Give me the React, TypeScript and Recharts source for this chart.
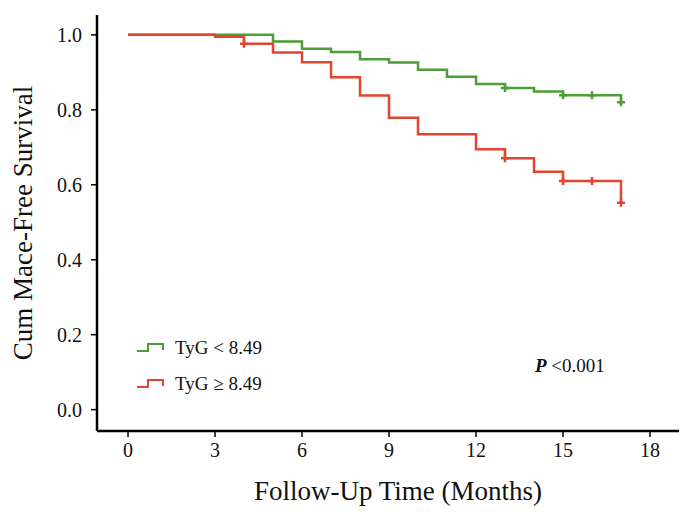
import React from 'react';
import { ComposedChart, Line, XAxis, YAxis, Legend } from 'recharts';

// Kaplan-Meier steps
const greenTime = [0, 5, 6, 7, 8, 9, 10, 11, 12, 13, 14, 15, 16, 17];
const greenSurv = [1, 0.982, 0.963, 0.954, 0.935, 0.926, 0.907, 0.888, 0.869, 0.858, 0.849, 0.839, 0.839, 0.82];
const greenCensored = [13, 15, 16, 17];

const redTime = [0, 3, 4, 5, 6, 7, 8, 9, 10, 12, 13, 14, 15, 16, 17];
const redSurv = [1, 0.995, 0.976, 0.953, 0.927, 0.887, 0.838, 0.779, 0.735, 0.695, 0.671, 0.635, 0.61, 0.61, 0.552];
const redCensored = [4, 13, 15, 16, 17];

const xTicks = [0, 3, 6, 9, 12, 15, 18];
const yTicks = [0, 0.2, 0.4, 0.6, 0.8, 1.0];

const GREEN = '#4c9f36';
const RED = '#e2452f';
const FONT = '"Liberation Serif", "Times New Roman", serif';

const build = (time: number[], surv: number[], cens: number[]) =>
  time.map((t, i) => ({ t, s: surv[i], c: cens.includes(t) }));

const greenData = build(greenTime, greenSurv, greenCensored);
const redData = build(redTime, redSurv, redCensored);

const censorDot = (color: string) => (props: any) => {
  const { cx, cy, payload, index } = props;
  if (!payload || !payload.c) return <g key={`n${index}`} />;
  return (
    <path
      key={`c${index}`}
      d={`M${cx - 4},${cy}H${cx + 4}M${cx},${cy - 4}V${cy + 4}`}
      stroke={color}
      strokeWidth={2.5}
      fill="none"
    />
  );
};

const renderLegend = (props: any) => {
  const { payload } = props;
  return (
    <div style={{ fontFamily: FONT, fontSize: 19, color: '#111' }}>
      {payload.map((p: any, i: number) => (
        <div key={i} style={{ display: 'flex', alignItems: 'center', height: 36 }}>
          <svg width={28} height={10} style={{ marginRight: 10 }}>
            <path d="M0,8H11V1H26V7" stroke={p.color} strokeWidth={2} fill="none" />
          </svg>
          <span>{p.value}</span>
        </div>
      ))}
    </div>
  );
};

export default function App() {
  return (
    <div style={{ position: 'absolute', left: 0, top: 0, width: 685, height: 512, background: '#fff' }}>
      <ComposedChart width={685} height={512} margin={{ top: 15, right: 6, bottom: 0, left: 0 }}>
        <XAxis
          dataKey="t"
          type="number"
          domain={[-1.07, 19]}
          ticks={xTicks}
          allowDataOverflow
          height={81}
          stroke="#000"
          axisLine={{ strokeWidth: 2.5 }}
          tickLine={{ strokeWidth: 1.5 }}
          tickSize={6}
          tickMargin={6}
          tick={{ fill: '#111', fontSize: 20, fontFamily: FONT }}
          label={{
            value: 'Follow-Up Time (Months)',
            position: 'insideBottom',
            offset: 12,
            dx: 10,
            style: { fill: '#111', fontSize: 27, fontFamily: FONT },
          }}
        />
        <YAxis
          type="number"
          domain={[-0.057, 1.053]}
          ticks={yTicks}
          allowDataOverflow
          width={97}
          stroke="#000"
          axisLine={{ strokeWidth: 2.5 }}
          tickLine={{ strokeWidth: 1.5 }}
          tickSize={6}
          tickMargin={9}
          tickFormatter={(v: number) => v.toFixed(1)}
          tick={{ fill: '#111', fontSize: 20, fontFamily: FONT }}
          label={{
            value: 'Cum Mace-Free Survival',
            angle: -90,
            position: 'insideLeft',
            offset: 22,
            style: { textAnchor: 'middle', fill: '#111', fontSize: 27, fontFamily: FONT },
          }}
        />
        <Legend
          layout="vertical"
          align="center"
          verticalAlign="middle"
          content={renderLegend}
          wrapperStyle={{ position: 'absolute', left: 137, top: 330, width: 200 }}
        />
        <Line
          data={greenData}
          dataKey="s"
          name="TyG < 8.49"
          type="stepAfter"
          stroke={GREEN}
          strokeWidth={2.5}
          dot={censorDot(GREEN)}
          activeDot={false}
          isAnimationActive={false}
        />
        <Line
          data={redData}
          dataKey="s"
          name="TyG ≥ 8.49"
          type="stepAfter"
          stroke={RED}
          strokeWidth={2.5}
          dot={censorDot(RED)}
          activeDot={false}
          isAnimationActive={false}
        />
      </ComposedChart>
      <div
        style={{
          position: 'absolute',
          left: 535,
          top: 355,
          fontFamily: FONT,
          fontSize: 19,
          color: '#111',
          whiteSpace: 'nowrap',
        }}
      >
        <i style={{ fontWeight: 'bold' }}>P</i> &lt;0.001
      </div>
    </div>
  );
}
